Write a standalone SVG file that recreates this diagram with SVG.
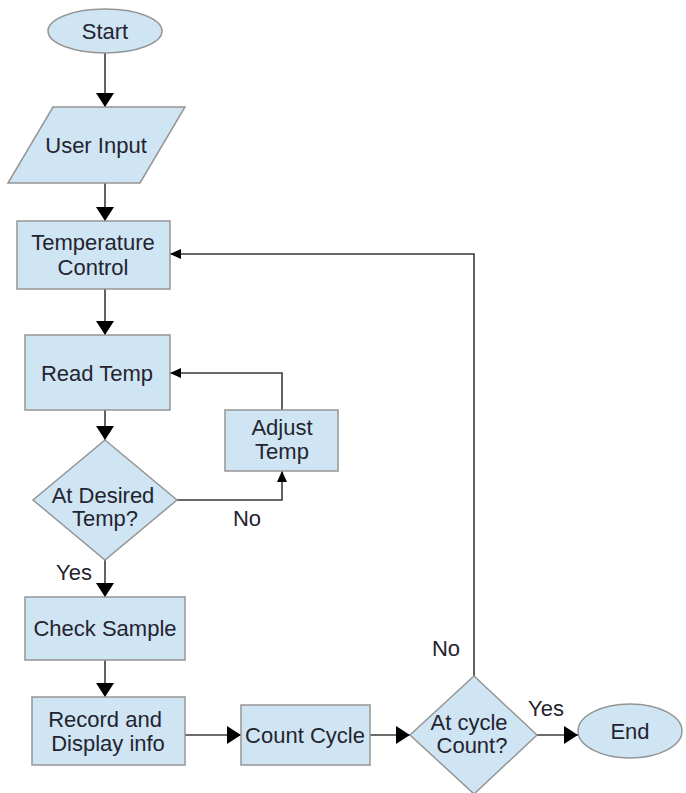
<svg xmlns="http://www.w3.org/2000/svg" width="686" height="793" viewBox="0 0 686 793">
<style>
.n{fill:#cfe5f3;stroke:#959595;stroke-width:1.5}
.t{font-family:"Liberation Sans",Arial,sans-serif;font-size:22px;fill:#242430;text-anchor:middle}
.c{fill:none;stroke:#3a3a3a;stroke-width:1.6}
</style>
<defs>
<marker id="big" markerUnits="userSpaceOnUse" markerWidth="14" markerHeight="18" refX="14" refY="9" orient="auto"><path d="M0,0 L14,9 L0,18 z" fill="#000"/></marker>
<marker id="sm" markerUnits="userSpaceOnUse" markerWidth="11" markerHeight="10" refX="11" refY="5" orient="auto"><path d="M0,0 L11,5 L0,10 z" fill="#000"/></marker>
</defs>
<rect width="686" height="793" fill="#fff"/>
<g id="connectors">
<path class="c" d="M105,53 V107" marker-end="url(#big)"/>
<path class="c" d="M105,183 V221" marker-end="url(#big)"/>
<path class="c" d="M105,289 V335" marker-end="url(#big)"/>
<path class="c" d="M105,410 V440" marker-end="url(#big)"/>
<path class="c" d="M177,500 H282 V471" marker-end="url(#sm)"/>
<path class="c" d="M282,410 V373 H170" marker-end="url(#sm)"/>
<path class="c" d="M105,560 V597" marker-end="url(#big)"/>
<path class="c" d="M105,660 V697" marker-end="url(#big)"/>
<path class="c" d="M185,735 H241" marker-end="url(#big)"/>
<path class="c" d="M370,735 H410" marker-end="url(#big)"/>
<path class="c" d="M537,735 H578" marker-end="url(#big)"/>
<path class="c" d="M474,676 V254 H170" marker-end="url(#sm)"/>
<text class="t" x="247" y="526">No</text>
<text class="t" x="74" y="580">Yes</text>
<text class="t" x="446" y="656">No</text>
<text class="t" x="546" y="716">Yes</text>
</g>
<g id="start"><ellipse class="n" cx="105" cy="31" rx="57" ry="22"/><text class="t" x="105" y="39">Start</text></g>
<g id="user-input"><polygon class="n" points="53,107 185,107 140,183 8,183"/><text class="t" x="96" y="153">User Input</text></g>
<g id="temp-control"><rect class="n" x="17" y="221" width="153" height="68"/><text class="t" x="93" y="250">Temperature</text><text class="t" x="93" y="275">Control</text></g>
<g id="read-temp"><rect class="n" x="25" y="335" width="145" height="75"/><text class="t" x="97" y="381">Read Temp</text></g>
<g id="adjust-temp"><rect class="n" x="225" y="410" width="113" height="61"/><text class="t" x="282" y="435">Adjust</text><text class="t" x="282" y="459">Temp</text></g>
<g id="desired-temp"><polygon class="n" points="105,440 177,500 105,560 33,500"/><text class="t" x="103" y="503">At Desired</text><text class="t" x="105" y="526">Temp?</text></g>
<g id="check-sample"><rect class="n" x="25" y="597" width="160" height="63"/><text class="t" x="105" y="636">Check Sample</text></g>
<g id="record-display"><rect class="n" x="32" y="697" width="153" height="68"/><text class="t" x="105" y="727">Record and</text><text class="t" x="108" y="751">Display info</text></g>
<g id="count-cycle"><rect class="n" x="241" y="705" width="129" height="60"/><text class="t" x="305" y="743">Count Cycle</text></g>
<g id="cycle-count"><polygon class="n" points="474,676 537,735 474,794 410,735"/><text class="t" x="469" y="730">At cycle</text><text class="t" x="472" y="753">Count?</text></g>
<g id="end"><ellipse class="n" cx="630" cy="731" rx="52" ry="27"/><text class="t" x="630" y="739">End</text></g>
</svg>
